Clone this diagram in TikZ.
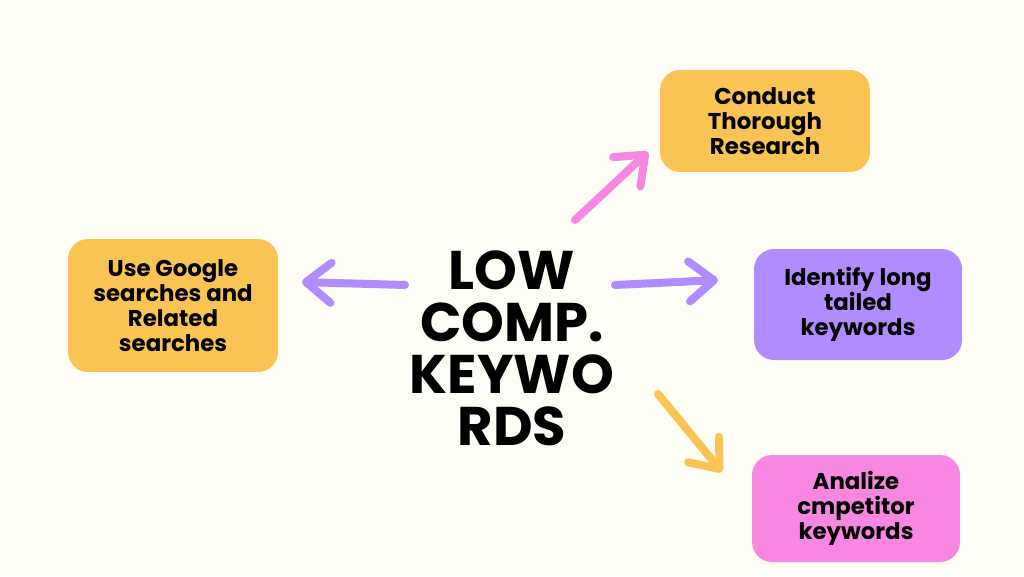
\documentclass[tikz,border=0pt]{standalone}
\usepackage{fontspec}
\setmainfont{Poppins}
\usetikzlibrary{arrows.meta}
\definecolor{bgc}{HTML}{FEFDF6}
\definecolor{orng}{HTML}{F9C453}
\definecolor{purp}{HTML}{B18CFE}
\definecolor{pnk}{HTML}{F787E0}
\tikzset{
  box/.style={rounded corners=0.4cm, align=center, inner sep=0pt,
    font=\fontsize{13}{14.2}\selectfont\bfseries, text=black},
  conn/.style={line width=0.16cm, line cap=round,
    -{Straight Barb[length=0.5cm,width=0.8cm,round]}},
}
\begin{document}
\begin{tikzpicture}[x=0.02cm,y=-0.02cm]
\fill[bgc] (0,0) rectangle (1024,576);
\useasboundingbox (0,0) rectangle (1024,576);

\node[box, fill=orng, minimum width=4.2cm, minimum height=2.04cm] (research) at (765,121) {Conduct\\Thorough\\Research};
\node[box, fill=purp, minimum width=4.16cm, minimum height=2.22cm] (longtail) at (858,304.5) {Identify long\\tailed\\keywords};
\node[box, fill=pnk, minimum width=4.16cm, minimum height=2.14cm] (competitor) at (856,508.5) {Analize\\cmpetitor\\keywords};
\node[box, fill=orng, minimum width=4.2cm, minimum height=2.66cm] (google) at (173,305.5) {Use Google\\searches and\\Related\\searches};

\node[align=center, font=\fontsize{31}{29.6}\selectfont\bfseries] (center) at (512,348) {LOW\\COMP.\\KEYWO\\RDS};

\coordinate (t1) at (575,220); \coordinate (h1) at (648,152);
\coordinate (t2) at (405,285); \coordinate (h2) at (302,282);
\coordinate (t3) at (615,285); \coordinate (h3) at (718,280);
\coordinate (t4) at (658,394); \coordinate (h4) at (722,472);

\draw[conn, color=pnk] (t1) -- (h1);
\draw[conn, color=purp] (t2) -- (h2);
\draw[conn, color=purp] (t3) -- (h3);
\draw[conn, color=orng] (t4) -- (h4);
\end{tikzpicture}
\end{document}
